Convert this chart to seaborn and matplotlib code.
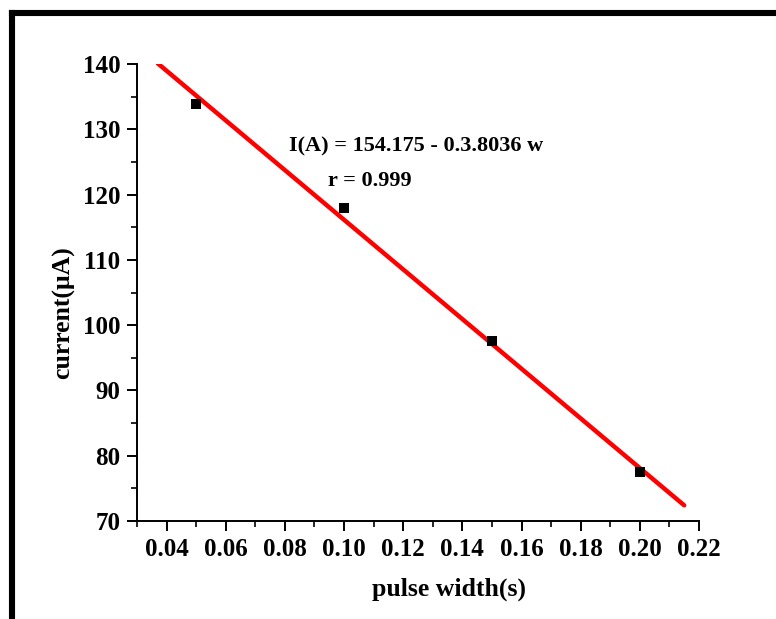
import numpy as np
import pandas as pd
import matplotlib
matplotlib.use("Agg")
import matplotlib.pyplot as plt
import seaborn as sns
from matplotlib.lines import Line2D
from matplotlib.ticker import MultipleLocator

# data
pulse_width = [0.05, 0.10, 0.15, 0.20]
current = [133.8, 118.0, 97.5, 77.5]
fit_intercept = 154.175
fit_slope = -380.36
fit_x = [0.037, 0.215]
xticks = [0.04, 0.06, 0.08, 0.10, 0.12, 0.14, 0.16, 0.18, 0.20, 0.22]
yticks = [70, 80, 90, 100, 110, 120, 130, 140]
eq_text = "I(A) = 154.175 - 0.3.8036 w"
r_text = "r = 0.999"

sns.set_theme(style="ticks")
plt.rcParams['font.family'] = ['Liberation Serif', 'DejaVu Serif']
plt.rcParams['font.weight'] = 'bold'
plt.rcParams['text.color'] = 'black'
plt.rcParams['axes.labelcolor'] = 'black'
plt.rcParams['xtick.color'] = 'black'
plt.rcParams['ytick.color'] = 'black'

fig = plt.figure(figsize=(7.76, 6.19), dpi=100)
ax = fig.add_axes([137/776, 1-521/619, (699-137)/776, (521-64)/619])

df = pd.DataFrame({"w": pulse_width, "I": current})
fit_df = pd.DataFrame({"w": fit_x, "I": [fit_intercept + fit_slope * x for x in fit_x]})

sns.lineplot(data=fit_df, x="w", y="I", ax=ax, color="#ff0000", linewidth=3.2,
             solid_capstyle="round", zorder=2)
sns.scatterplot(data=df, x="w", y="I", ax=ax, marker="s", color="black",
                s=55, edgecolor="black", linewidth=0, zorder=3)

ax.set_xlim(0.03, 0.22)
ax.set_ylim(70, 140)
ax.set_xticks(xticks)
ax.set_xticklabels([f"{t:.2f}" for t in xticks])
ax.set_yticks(yticks)
ax.set_yticklabels([str(t) for t in yticks])
ax.xaxis.set_minor_locator(MultipleLocator(0.01))
ax.yaxis.set_minor_locator(MultipleLocator(5))

for s in ["top", "right"]:
    ax.spines[s].set_visible(False)
for s in ["left", "bottom"]:
    ax.spines[s].set_linewidth(1.4)
    ax.spines[s].set_color("black")

ax.tick_params(axis="both", which="major", direction="out", length=7, width=1.4,
               labelsize=18, colors="black", pad=5)
ax.tick_params(axis="both", which="minor", direction="out", length=4, width=1.2,
               colors="black")
for lab in ax.get_xticklabels() + ax.get_yticklabels():
    lab.set_fontweight("bold")
    lab.set_color("black")

ax.set_xlabel("pulse width(s)", fontsize=18.5, fontweight="bold", color="black")
ax.set_ylabel("current(μA)", fontsize=18.5, fontweight="bold", color="black")
ax.xaxis.set_label_coords(0.555, -0.123)
ax.yaxis.set_label_coords(-0.110, 0.457)

ax.text(0.0815, 127.3, eq_text, fontsize=16, fontweight="bold", va="center", ha="left", color="black")
ax.text(0.0947, 122.1, r_text, fontsize=16, fontweight="bold", va="center", ha="left", color="black")

# outer frame (top and left)
fig.add_artist(Line2D([12/776, 1.0], [1-13/619, 1-13/619], transform=fig.transFigure,
                      color="black", linewidth=4.4, solid_capstyle="projecting"))
fig.add_artist(Line2D([12/776, 12/776], [1-13/619, 0.0], transform=fig.transFigure,
                      color="black", linewidth=4.4, solid_capstyle="projecting"))

fig.savefig("out.png", dpi=100)
